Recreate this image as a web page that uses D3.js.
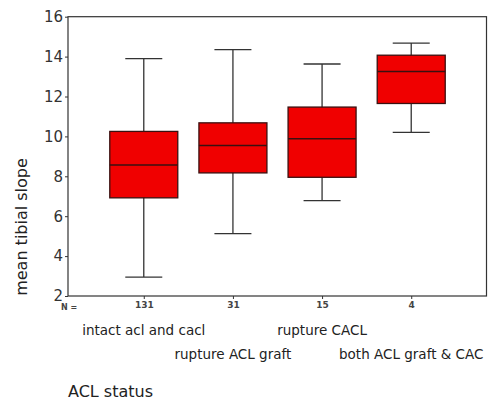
<!DOCTYPE html>
<html><head><meta charset="utf-8">
<script src="https://cdn.jsdelivr.net/npm/d3@7"></script>
<style>body{margin:0;background:#fff}svg{display:block}text{font-family:"DejaVu Sans",sans-serif}</style>
</head><body><svg id="c" width="488" height="406"></svg>
<script>
const categories = ["intact acl and cacl","rupture ACL graft","rupture CACL","both ACL graft & CAC"];
const counts = [131, 31, 15, 4];
const whiskerLow = [2.95, 5.13, 6.78, 10.2];
const q1 = [6.92, 8.17, 7.95, 11.65];
const median = [8.57, 9.55, 9.88, 13.25];
const q3 = [10.25, 10.68, 11.47, 14.07];
const whiskerHigh = [13.9, 14.35, 13.63, 14.68];
const yTicks = [2,4,6,8,10,12,14,16];

const svg = d3.select("#c");
const L = 68, R = 487, T = 16.7, B = 296;
const y = d3.scaleLinear().domain([2,16]).range([B,T]);
const x = d3.scalePoint().domain(categories).range([L,R]).padding(0.85);
const col = "#333";

svg.append("rect").attr("x",L).attr("y",T).attr("width",R-L-0.5).attr("height",B-T)
  .attr("fill","none").attr("stroke",col).attr("stroke-width",1.2);

const yAxis = svg.append("g").attr("transform",`translate(${L},0)`)
  .call(d3.axisLeft(y).tickValues(yTicks).tickSize(3).tickPadding(2).tickFormat(d3.format("d")));
yAxis.select(".domain").remove();
yAxis.selectAll("line").attr("stroke",col);
yAxis.selectAll("text").attr("font-size",15).attr("fill","#333").attr("font-family","DejaVu Sans");

const xAxis = svg.append("g").attr("transform",`translate(0,${B})`)
  .call(d3.axisBottom(x).tickSize(3).tickFormat((d,i)=>counts[i]).tickPadding(3));
xAxis.select(".domain").remove();
xAxis.selectAll("line").attr("stroke",col);
xAxis.selectAll("text").attr("font-size",9).attr("font-weight","bold").attr("fill","#444").attr("font-family","DejaVu Sans");

svg.append("text").attr("x",61).attr("y",310).attr("font-size",8).attr("font-weight","bold")
  .attr("fill","#444").text("N =");

const boxW = 68, capW = 37;
const g = svg.append("g").selectAll("g").data(categories).join("g");
g.append("line").attr("x1",d=>x(d)).attr("x2",d=>x(d))
  .attr("y1",(d,i)=>y(whiskerLow[i])).attr("y2",(d,i)=>y(whiskerHigh[i]))
  .attr("stroke",col).attr("stroke-width",1.3);
g.append("line").attr("x1",d=>x(d)-capW/2).attr("x2",d=>x(d)+capW/2)
  .attr("y1",(d,i)=>y(whiskerLow[i])).attr("y2",(d,i)=>y(whiskerLow[i]))
  .attr("stroke",col).attr("stroke-width",1.3);
g.append("line").attr("x1",d=>x(d)-capW/2).attr("x2",d=>x(d)+capW/2)
  .attr("y1",(d,i)=>y(whiskerHigh[i])).attr("y2",(d,i)=>y(whiskerHigh[i]))
  .attr("stroke",col).attr("stroke-width",1.3);
g.append("rect").attr("x",d=>x(d)-boxW/2).attr("width",boxW)
  .attr("y",(d,i)=>y(q3[i])).attr("height",(d,i)=>y(q1[i])-y(q3[i]))
  .attr("fill","#f00000").attr("stroke","#3a1010").attr("stroke-width",1.3);
g.append("line").attr("x1",d=>x(d)-boxW/2).attr("x2",d=>x(d)+boxW/2)
  .attr("y1",(d,i)=>y(median[i])).attr("y2",(d,i)=>y(median[i]))
  .attr("stroke","#3a1010").attr("stroke-width",1.5);

svg.append("g").selectAll("text").data(categories).join("text")
  .attr("x",d=>x(d)).attr("y",(d,i)=>i%2===0?335:359)
  .attr("text-anchor","middle").attr("font-size",13.5).attr("fill","#222").text(d=>d);

svg.append("text").attr("x",68).attr("y",397).attr("font-size",16).attr("fill","#222").text("ACL status");

svg.append("text").attr("transform",`translate(27,227) rotate(-90)`).attr("text-anchor","middle")
  .attr("font-size",16).attr("fill","#222").text("mean tibial slope");
</script></body></html>
